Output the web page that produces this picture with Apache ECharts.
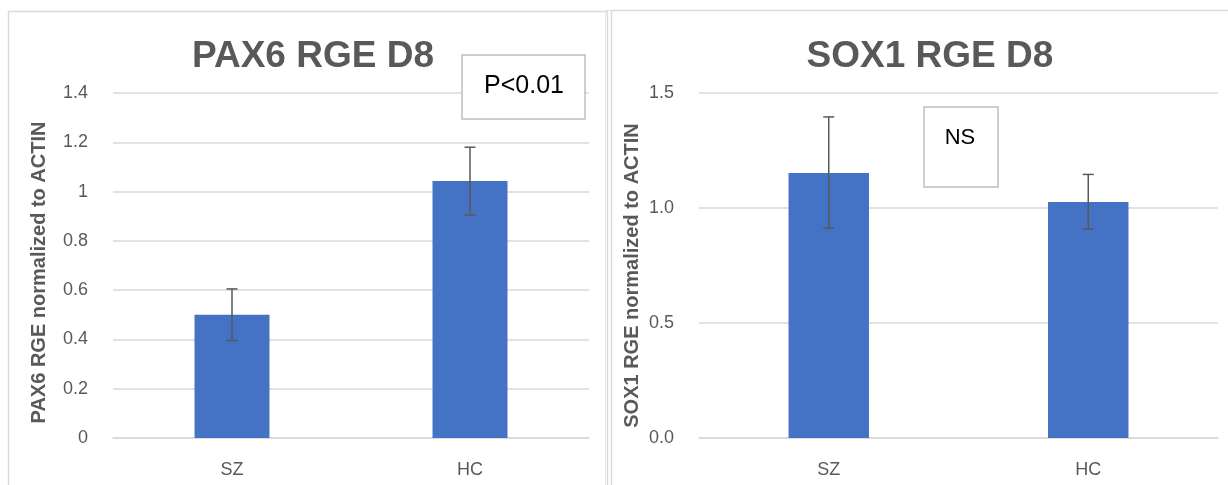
<!DOCTYPE html>
<html><head><meta charset="utf-8">
<script src="https://cdn.jsdelivr.net/npm/echarts@6/dist/echarts.min.js"></script>
<style>html,body{margin:0;padding:0;background:#fff}#c{width:1228px;height:485px}</style>
</head><body><div id="c"></div>
<script>
const categories = ['SZ', 'HC'];
const pax6Values = [0.50, 1.043];
const pax6ErrLow = [0.395, 0.905];
const pax6ErrHigh = [0.605, 1.18];
const sox1Values = [1.152, 1.026];
const sox1ErrLow = [0.913, 0.909];
const sox1ErrHigh = [1.396, 1.146];
const pax6Ticks = {min: 0, max: 1.4, interval: 0.2};
const sox1Ticks = {min: 0, max: 1.5, interval: 0.5};

const gray = '#595959';
const chart = echarts.init(document.getElementById('c'));

function errSeries(xi, yi, low, high) {
  return {
    type: 'custom', xAxisIndex: xi, yAxisIndex: yi, z: 5,
    data: categories.map((c, i) => [i, low[i], high[i]]),
    renderItem: function (params, api) {
      const lo = api.coord([api.value(0), api.value(1)]);
      const hi = api.coord([api.value(0), api.value(2)]);
      const w = 5.5;
      const st = {stroke: gray, lineWidth: 1.5};
      return {type: 'group', children: [
        {type: 'line', shape: {x1: lo[0], y1: lo[1], x2: hi[0], y2: hi[1]}, style: st},
        {type: 'line', shape: {x1: lo[0] - w, y1: lo[1], x2: lo[0] + w, y2: lo[1]}, style: st},
        {type: 'line', shape: {x1: hi[0] - w, y1: hi[1], x2: hi[0] + w, y2: hi[1]}, style: st}
      ]};
    }
  };
}

const xAx = (gi) => ({
  type: 'category', gridIndex: gi, data: categories,
  axisLine: {lineStyle: {color: '#d9d9d9', width: 1.5}},
  axisTick: {show: false},
  axisLabel: {color: gray, fontSize: 18, fontFamily: 'Liberation Sans', margin: 23}
});
const yAx = (gi, t, name, fmt, gap, pad) => ({
  type: 'value', gridIndex: gi, min: t.min, max: t.max, interval: t.interval,
  name: name, nameLocation: 'middle', nameGap: gap, nameRotate: 90,
  nameTextStyle: {color: gray, fontSize: 20, fontWeight: 'bold', fontFamily: 'Liberation Sans', padding: [0, pad, 0, 0]},
  axisLine: {show: false}, axisTick: {show: false},
  splitLine: {lineStyle: {color: '#d9d9d9', width: 1.5}},
  axisLabel: {color: gray, fontSize: 18, fontFamily: 'Liberation Sans', margin: 25, formatter: fmt}
});

chart.setOption({
  animation: false,
  title: [
    {text: 'PAX6 RGE D8', left: 308, top: 33, textAlign: 'center',
     textStyle: {color: gray, fontSize: 37, fontWeight: 'bold', fontFamily: 'Liberation Sans'}},
    {text: 'SOX1 RGE D8', left: 925, top: 33, textAlign: 'center',
     textStyle: {color: gray, fontSize: 37, fontWeight: 'bold', fontFamily: 'Liberation Sans'}}
  ],
  grid: [
    {left: 113, width: 476, top: 93, bottom: 47},
    {left: 699, width: 519, top: 93, bottom: 47}
  ],
  xAxis: [xAx(0), xAx(1)],
  yAxis: [
    yAx(0, pax6Ticks, 'PAX6 RGE normalized to ACTIN', v => String(Math.round(v * 10) / 10), 64, 14),
    yAx(1, sox1Ticks, 'SOX1 RGE normalized to ACTIN', v => v.toFixed(1), 57, 20)
  ],
  graphic: [
    {type: 'rect', shape: {x: 8.5, y: 11.5, width: 599, height: 480}, style: {fill: 'none', stroke: '#d9d9d9', lineWidth: 1.5}, silent: true},
    {type: 'rect', shape: {x: 605.5, y: 10.5, width: 630, height: 480}, style: {fill: 'none', stroke: '#e6e6e6', lineWidth: 1}, silent: true},
    {type: 'rect', shape: {x: 611.5, y: 10.5, width: 620, height: 480}, style: {fill: 'none', stroke: '#d9d9d9', lineWidth: 1.5}, silent: true},
    {type: 'rect', shape: {x: 462, y: 55, width: 123, height: 64}, style: {fill: '#fff', stroke: '#bfbfbf', lineWidth: 1.5}, z: 10},
    {type: 'text', x: 524, y: 86, style: {text: 'P<0.01', fill: '#000', fontSize: 25, fontFamily: 'Liberation Sans', textAlign: 'center', textVerticalAlign: 'middle'}, z: 11},
    {type: 'rect', shape: {x: 924, y: 107, width: 74, height: 80}, style: {fill: '#fff', stroke: '#bfbfbf', lineWidth: 1.5}, z: 10},
    {type: 'text', x: 960, y: 138, style: {text: 'NS', fill: '#000', fontSize: 22, fontFamily: 'Liberation Sans', textAlign: 'center', textVerticalAlign: 'middle'}, z: 11}
  ],
  series: [
    {type: 'bar', xAxisIndex: 0, yAxisIndex: 0, data: pax6Values, barWidth: '31.5%', itemStyle: {color: '#4472c4'}},
    errSeries(0, 0, pax6ErrLow, pax6ErrHigh),
    {type: 'bar', xAxisIndex: 1, yAxisIndex: 1, data: sox1Values, barWidth: '31%', itemStyle: {color: '#4472c4'}},
    errSeries(1, 1, sox1ErrLow, sox1ErrHigh)
  ]
});
</script></body></html>
